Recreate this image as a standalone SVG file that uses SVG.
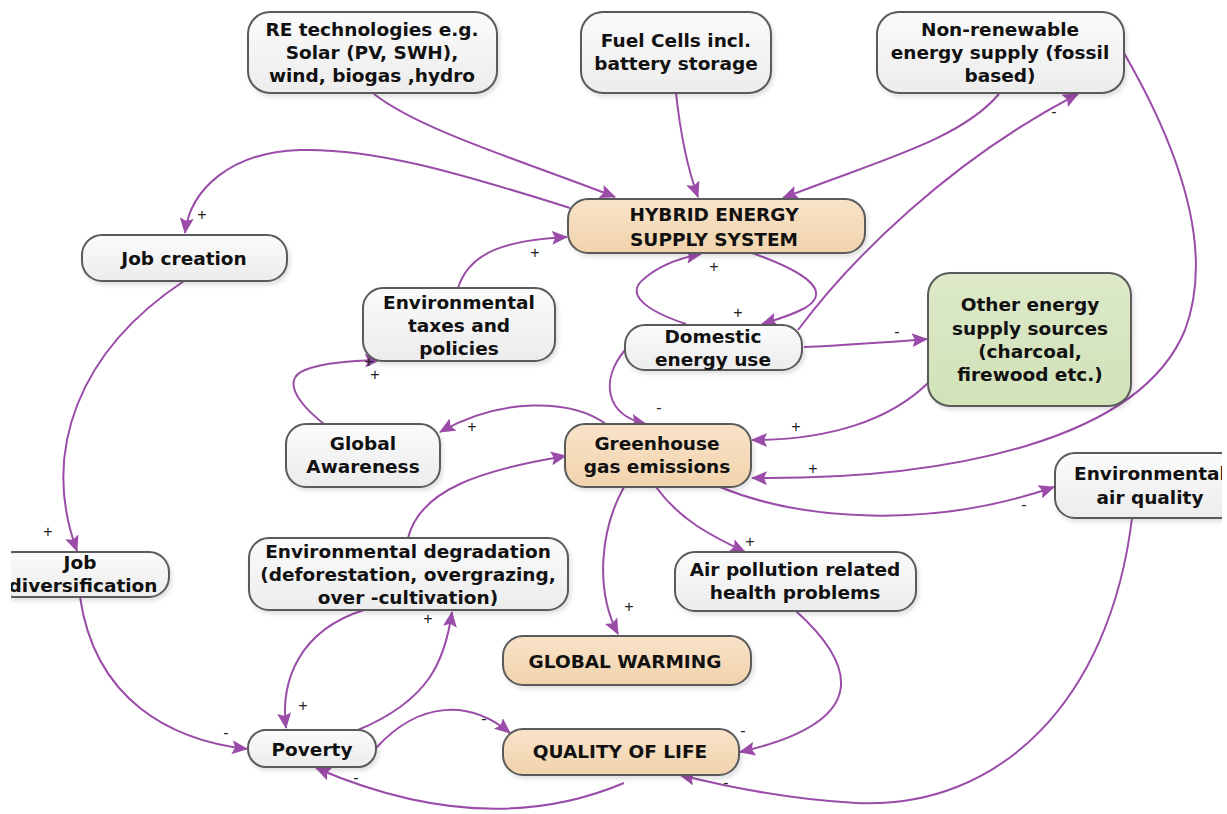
<svg xmlns="http://www.w3.org/2000/svg" width="1227" height="814" viewBox="0 0 1227 814">
<defs>
<linearGradient id="gGray" x1="0" y1="0" x2="0" y2="1"><stop offset="0" stop-color="#fbfbfb"/><stop offset="1" stop-color="#ececec"/></linearGradient>
<linearGradient id="gPeach" x1="0" y1="0" x2="0" y2="1"><stop offset="0" stop-color="#f9e3c9"/><stop offset="1" stop-color="#f1d3ac"/></linearGradient>
<linearGradient id="gGreen" x1="0" y1="0" x2="0" y2="1"><stop offset="0" stop-color="#dde9c9"/><stop offset="1" stop-color="#d1e2b8"/></linearGradient>
<filter id="sh" x="-10%" y="-10%" width="130%" height="140%"><feDropShadow dx="2" dy="3" stdDeviation="2" flood-color="#000" flood-opacity="0.12"/></filter>
<marker id="ah" viewBox="0 0 16 14" refX="15" refY="7" markerWidth="16" markerHeight="14" markerUnits="userSpaceOnUse" orient="auto"><path d="M0,0 L16,7 L0,14 L3,7 Z" fill="#9a4ca8"/></marker>
<clipPath id="clipL"><rect x="11" y="0" width="1216" height="814"/></clipPath>
<clipPath id="clipR"><rect x="0" y="0" width="1222" height="814"/></clipPath>
</defs>
<style>
.n{stroke:#5a5a5a;stroke-width:2;filter:url(#sh)}
.g{fill:url(#gGray)}
.p{fill:url(#gPeach)}
.gr{fill:url(#gGreen)}
.t{font-family:"DejaVu Sans","Liberation Sans",sans-serif;font-weight:bold;font-size:18.5px;fill:#111;text-anchor:middle}
.c path{fill:none;stroke:#9a4ca8;stroke-width:2;marker-end:url(#ah)}
.s{font-family:"Liberation Sans",sans-serif;font-size:16px;fill:#222;text-anchor:middle}
</style>
<rect width="1227" height="814" fill="#fff"/>
<g class="c" id="connectors">
<path d="M374,94 C420,130 520,160 615,197"/>
<path d="M676,93 C680,130 688,170 698,197"/>
<path d="M999,94 C960,140 880,160 783,198"/>
<path d="M570,208 C450,170 370,148 300,150 C230,152 190,190 185,233"/>
<path d="M458,288 C470,250 510,240 567,237"/>
<path d="M752,253 C800,270 835,290 805,308 C790,316 775,320 762,324"/>
<path d="M686,324 C650,312 622,295 645,278 C660,265 680,258 701,254"/>
<path d="M798,330 C850,260 950,160 1078,94"/>
<path d="M804,347 C850,345 890,342 927,339"/>
<path d="M625,350 C600,380 605,415 646,424"/>
<path d="M928,383 C890,420 830,440 752,440"/>
<path d="M1124,53 C1180,150 1215,250 1185,330 C1140,440 950,480 752,478"/>
<path d="M720,487 C800,520 930,530 1054,487"/>
<path d="M656,487 C680,520 710,535 745,552"/>
<path d="M624,487 C600,530 595,590 618,634"/>
<path d="M606,424 C570,398 500,398 440,432"/>
<path d="M324,424 C300,405 280,380 305,370 C325,362 355,361 380,360"/>
<path d="M408,538 C420,490 480,470 566,456"/>
<path d="M184,281 C80,350 40,450 77,551"/>
<path d="M80,597 C95,700 170,740 247,749"/>
<path d="M364,610 C300,630 280,680 286,728"/>
<path d="M358,730 C430,700 445,660 452,612"/>
<path d="M376,748 C420,700 470,700 510,733"/>
<path d="M624,783 C560,810 460,830 316,768"/>
<path d="M796,611 C850,660 880,720 740,752"/>
<path d="M1132,518 C1110,700 1000,810 856,803 C800,800 740,790 680,775"/>
</g>
<g id="labels">
<text class="s" x="202" y="220">+</text>
<text class="s" x="535" y="258">+</text>
<text class="s" x="714" y="272">+</text>
<text class="s" x="738" y="318">+</text>
<text class="s" x="369" y="367">+</text>
<text class="s" x="375" y="380">+</text>
<text class="s" x="472" y="432">+</text>
<text class="s" x="796" y="432">+</text>
<text class="s" x="813" y="474">+</text>
<text class="s" x="750" y="547">+</text>
<text class="s" x="629" y="612">+</text>
<text class="s" x="48" y="537">+</text>
<text class="s" x="303" y="711">+</text>
<text class="s" x="428" y="624">+</text>
<text class="s" x="1054" y="117">-</text>
<text class="s" x="897" y="337">-</text>
<text class="s" x="659" y="413">-</text>
<text class="s" x="1024" y="510">-</text>
<text class="s" x="226" y="738">-</text>
<text class="s" x="484" y="724">-</text>
<text class="s" x="356" y="783">-</text>
<text class="s" x="743" y="736">-</text>
<text class="s" x="726" y="788">-</text>
</g>
<g id="re"><rect class="n g" x="248" y="12" width="249" height="81" rx="22"/><text class="t" x="372" y="36">RE technologies e.g.</text><text class="t" x="372" y="59">Solar (PV, SWH),</text><text class="t" x="372" y="82">wind, biogas ,hydro</text></g>
<g id="fuel"><rect class="n g" x="581" y="12" width="190" height="81" rx="22"/><text class="t" x="676" y="47">Fuel Cells incl.</text><text class="t" x="676" y="70">battery storage</text></g>
<g id="nonren"><rect class="n g" x="877" y="12" width="247" height="81" rx="22"/><text class="t" x="1000" y="36">Non-renewable</text><text class="t" x="1000" y="59">energy supply (fossil</text><text class="t" x="1000" y="82">based)</text></g>
<g id="hybrid"><rect class="n p" x="568" y="199" width="297" height="54" rx="20"/><text class="t" x="714" y="221">HYBRID ENERGY</text><text class="t" x="714" y="246">SUPPLY SYSTEM</text></g>
<g id="jobc"><rect class="n g" x="82" y="235" width="205" height="46" rx="20"/><text class="t" x="184" y="265">Job creation</text></g>
<g id="envtax"><rect class="n g" x="363" y="288" width="192" height="73" rx="20"/><text class="t" x="459" y="309">Environmental</text><text class="t" x="459" y="332">taxes and</text><text class="t" x="459" y="355">policies</text></g>
<g id="domestic"><rect class="n g" x="625" y="325" width="177" height="45" rx="20"/><text class="t" x="713" y="343">Domestic</text><text class="t" x="713" y="366">energy use</text></g>
<g id="other"><rect class="n gr" x="928" y="273" width="203" height="133" rx="22"/><text class="t" x="1030" y="311">Other energy</text><text class="t" x="1030" y="335">supply sources</text><text class="t" x="1030" y="358">(charcoal,</text><text class="t" x="1030" y="381">firewood etc.)</text></g>
<g id="global"><rect class="n g" x="286" y="424" width="154" height="63" rx="20"/><text class="t" x="363" y="450">Global</text><text class="t" x="363" y="473">Awareness</text></g>
<g id="ghg"><rect class="n p" x="565" y="424" width="186" height="63" rx="20"/><text class="t" x="657" y="450">Greenhouse</text><text class="t" x="657" y="473">gas emissions</text></g>
<g id="airq" clip-path="url(#clipR)"><rect class="n g" x="1055" y="453" width="190" height="65" rx="20"/><text class="t" x="1150" y="480">Environmental</text><text class="t" x="1150" y="504">air quality</text></g>
<g id="jobd" clip-path="url(#clipL)"><rect class="n g" x="-6" y="552" width="175" height="45" rx="20"/><text class="t" x="80" y="569">Job</text><text class="t" x="83" y="592">diversification</text></g>
<g id="envdeg"><rect class="n g" x="249" y="538" width="319" height="72" rx="20"/><text class="t" x="408" y="558">Environmental degradation</text><text class="t" x="408" y="581">(deforestation, overgrazing,</text><text class="t" x="408" y="604">over -cultivation)</text></g>
<g id="airpol"><rect class="n g" x="675" y="552" width="241" height="59" rx="20"/><text class="t" x="795" y="576">Air pollution related</text><text class="t" x="795" y="599">health problems</text></g>
<g id="gw"><rect class="n p" x="503" y="636" width="248" height="49" rx="20"/><text class="t" x="625" y="668">GLOBAL WARMING</text></g>
<g id="poverty"><rect class="n g" x="248" y="730" width="128" height="37" rx="18"/><text class="t" x="312" y="756">Poverty</text></g>
<g id="qol"><rect class="n p" x="503" y="729" width="236" height="46" rx="20"/><text class="t" x="620" y="758">QUALITY OF LIFE</text></g>
</svg>
